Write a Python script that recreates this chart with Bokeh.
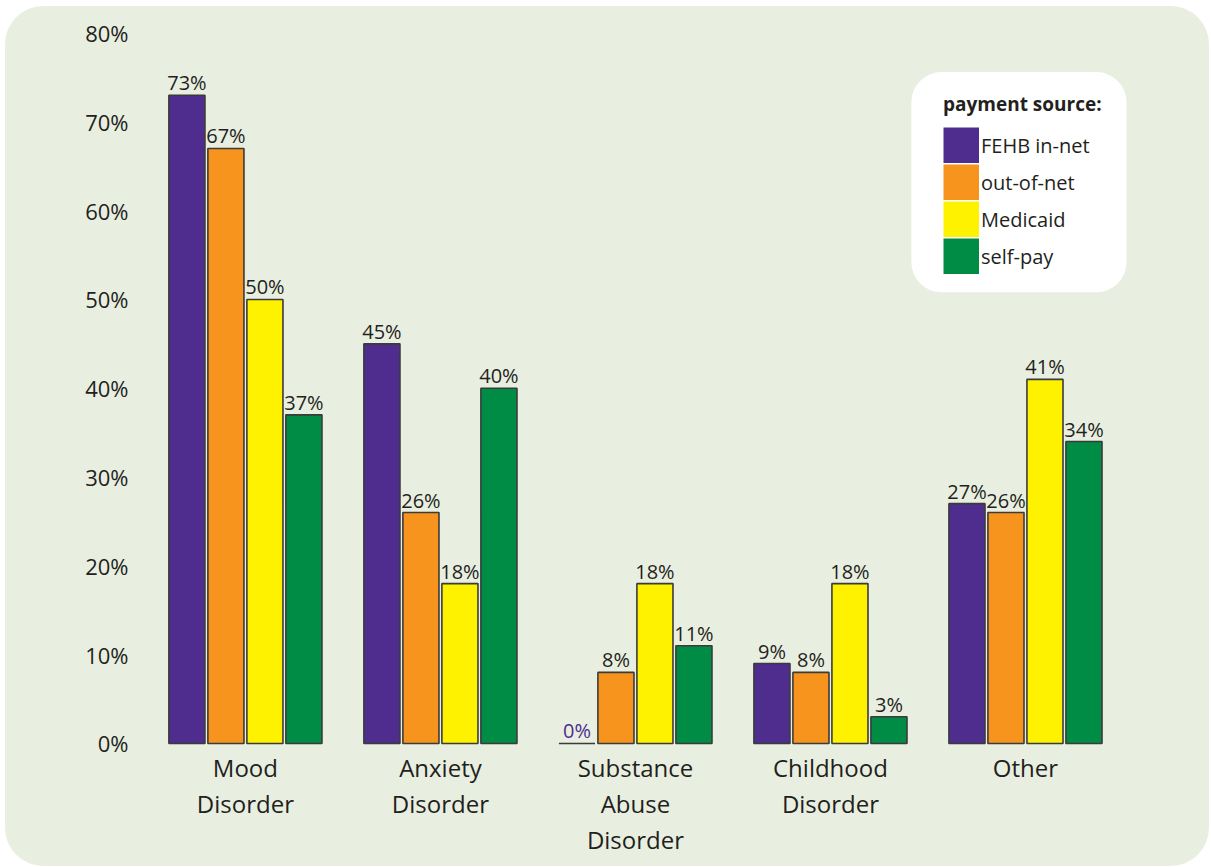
from bokeh.plotting import figure
from bokeh.models import (ColumnDataSource, FixedTicker, PrintfTickFormatter, Legend,
                          LegendItem, BoxAnnotation, Range1d)
from bokeh.embed import file_html
from bokeh.resources import INLINE
from bokeh.core.properties import value

# Share of patients with each diagnosis, by payment source (percent)
categories = ["Mood\nDisorder", "Anxiety\nDisorder", "Substance\nAbuse\nDisorder",
              "Childhood\nDisorder", "Other"]
series = ["FEHB in-net", "out-of-net", "Medicaid", "self-pay"]
fehb_in_net = [73, 45, 0, 9, 27]
out_of_net = [67, 26, 8, 8, 26]
medicaid = [50, 18, 18, 18, 41]
self_pay = [37, 40, 11, 3, 34]
y_ticks = [0, 10, 20, 30, 40, 50, 60, 70, 80]

values = [fehb_in_net, out_of_net, medicaid, self_pay]
colors = ["#4f2d8f", "#f7941d", "#fff200", "#008c44"]

FONT = "Open Sans"
TEXT = "#231f20"
BG = "#e9efe0"

p = figure(width=1204, height=860, output_backend="svg", toolbar_location=None,
           x_range=Range1d(-0.538, 4.795), y_range=Range1d(-0.57, 81.41),
           min_border_left=135, min_border_right=29, min_border_top=14,
           min_border_bottom=118)
# rounded light-green card behind the whole chart
p.styles = {"margin-left": "5px", "margin-top": "6px", "border-radius": "38px",
            "overflow": "hidden", "background-color": BG}
p.background_fill_alpha = 0
p.border_fill_alpha = 0
p.outline_line_color = None
p.grid.visible = False

bar_w = 0.185
step = 0.2
for i, (vals, col) in enumerate(zip(values, colors)):
    off = (i - 1.5) * step
    xs = [g + off for g in range(len(categories))]
    label_colors = [col if v == 0 else TEXT for v in vals]
    src = ColumnDataSource(dict(x=xs, top=vals, label=[f"{v}%" for v in vals],
                                tc=label_colors))
    p.vbar(x="x", top="top", bottom=0, width=bar_w, source=src, fill_color=col,
           line_color="#3b3b3b", line_width=1.6)
    p.text(x="x", y="top", text="label", source=src, text_align="center",
           text_baseline="bottom", text_font=value(FONT), text_font_size="20px",
           text_color="tc", y_offset=1)

# Legend panel
p.add_layout(BoxAnnotation(left=3.415, right=4.518, bottom=50.8, top=75.6,
                           fill_color="white", fill_alpha=1, line_color=None,
                           border_radius=30, level="underlay"))

# Swatch renderers for the legend: thick off-screen lines give square swatches
items = []
for name, col in zip(series, colors):
    r = p.line(x=[-10, -9.9], y=[0, 0], line_width=36, line_color=col,
               line_cap="butt")
    items.append(LegendItem(label=name, renderers=[r]))
legend = Legend(items=items, location=(803, 474), title="payment source:",
                title_text_font=FONT, title_text_font_style="bold",
                title_text_font_size="19px", title_text_color=TEXT,
                title_standoff=10, label_text_font=FONT, label_text_font_size="20px",
                label_text_color=TEXT, glyph_width=36, glyph_height=36,
                label_height=36, label_standoff=2, spacing=1, padding=0, margin=0,
                background_fill_alpha=0, border_line_color=None)
p.add_layout(legend)

# Axes
ya = p.yaxis[0]
ya.ticker = FixedTicker(ticks=y_ticks)
ya.formatter = PrintfTickFormatter(format="%d%%")
ya.axis_line_color = None
ya.major_tick_line_color = None
ya.minor_tick_line_color = None
ya.major_tick_out = 0
ya.major_label_standoff = 12
ya.major_label_text_font = FONT
ya.major_label_text_font_size = "22px"
ya.major_label_text_color = TEXT

xa = p.xaxis[0]
xa.ticker = FixedTicker(ticks=list(range(len(categories))))
xa.major_label_overrides = {i: c for i, c in enumerate(categories)}
xa.axis_line_color = None
xa.major_tick_line_color = None
xa.minor_tick_line_color = None
xa.major_tick_out = 0
xa.major_label_standoff = 2
xa.major_label_text_font = FONT
xa.major_label_text_font_size = "24px"
xa.major_label_text_color = TEXT
xa.major_label_text_line_height = 1.1

open("out.html", "w").write(file_html(p, INLINE))
